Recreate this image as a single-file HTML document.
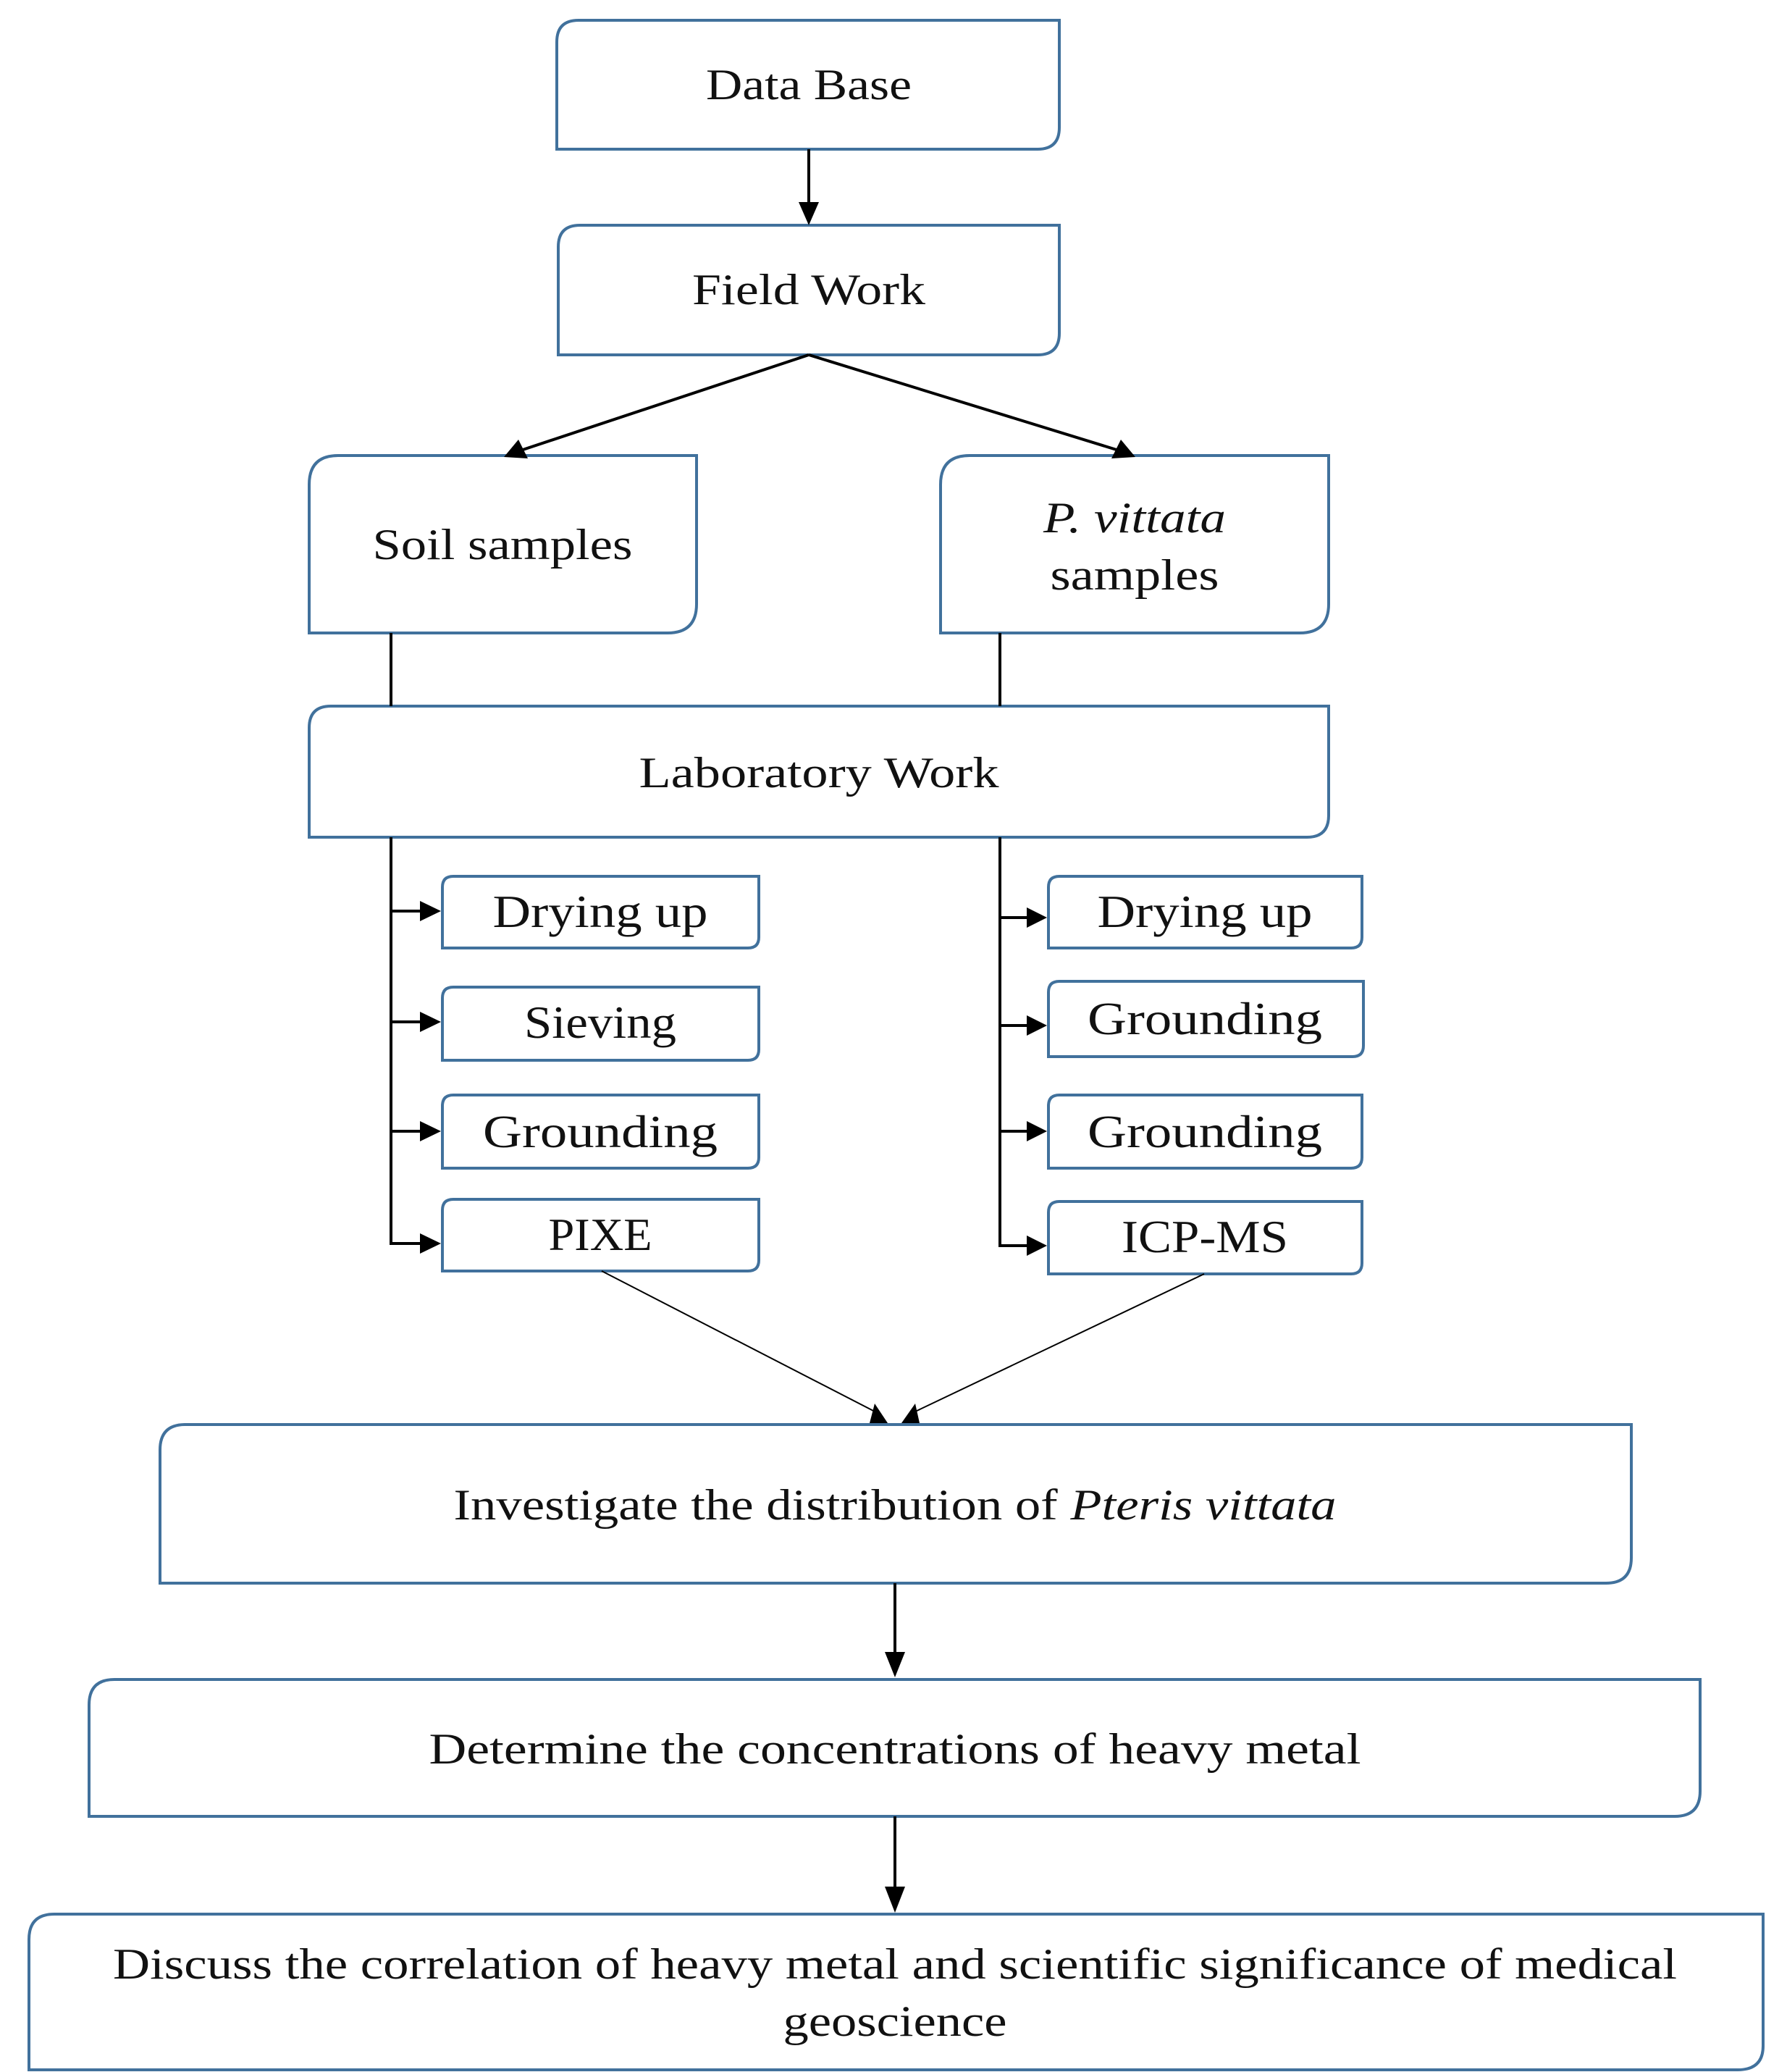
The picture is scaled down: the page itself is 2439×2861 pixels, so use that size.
<!DOCTYPE html>
<html><head><meta charset="utf-8"><style>
html,body{margin:0;padding:0;background:#fff;}
svg{display:block;}
text{font-family:"Liberation Serif",serif;fill:#111;}
</style></head><body>
<svg width="2439" height="2861" viewBox="0 0 2439 2861" xmlns="http://www.w3.org/2000/svg">
<defs>
<marker id="a" markerWidth="10" markerHeight="10" refX="9" refY="5" orient="auto" markerUnits="userSpaceOnUse" viewBox="0 0 10 10">
</marker>
</defs>
<g fill="none" stroke="#41719c" stroke-width="4">
<path d="M769,58 Q769,28 799,28 L1463,28 L1463,176 Q1463,206 1433,206 L769,206 Z"/>
<path d="M771,341 Q771,311 801,311 L1463,311 L1463,460 Q1463,490 1433,490 L771,490 Z"/>
<path d="M427,669 Q427,629 467,629 L962,629 L962,834 Q962,874 922,874 L427,874 Z"/>
<path d="M1299,669 Q1299,629 1339,629 L1835,629 L1835,834 Q1835,874 1795,874 L1299,874 Z"/>
<path d="M427,1005 Q427,975 457,975 L1835,975 L1835,1126 Q1835,1156 1805,1156 L427,1156 Z"/>
<path d="M611,1225 Q611,1210 626,1210 L1048,1210 L1048,1294 Q1048,1309 1033,1309 L611,1309 Z"/>
<path d="M611,1378 Q611,1363 626,1363 L1048,1363 L1048,1449 Q1048,1464 1033,1464 L611,1464 Z"/>
<path d="M611,1527 Q611,1512 626,1512 L1048,1512 L1048,1598 Q1048,1613 1033,1613 L611,1613 Z"/>
<path d="M611,1671 Q611,1656 626,1656 L1048,1656 L1048,1740 Q1048,1755 1033,1755 L611,1755 Z"/>
<path d="M1448,1225 Q1448,1210 1463,1210 L1881,1210 L1881,1294 Q1881,1309 1866,1309 L1448,1309 Z"/>
<path d="M1448,1370 Q1448,1355 1463,1355 L1883,1355 L1883,1444 Q1883,1459 1868,1459 L1448,1459 Z"/>
<path d="M1448,1527 Q1448,1512 1463,1512 L1881,1512 L1881,1598 Q1881,1613 1866,1613 L1448,1613 Z"/>
<path d="M1448,1674 Q1448,1659 1463,1659 L1881,1659 L1881,1744 Q1881,1759 1866,1759 L1448,1759 Z"/>
<path d="M221,2002 Q221,1967 256,1967 L2253,1967 L2253,2151 Q2253,2186 2218,2186 L221,2186 Z"/>
<path d="M123,2354 Q123,2319 158,2319 L2348,2319 L2348,2473 Q2348,2508 2313,2508 L123,2508 Z"/>
<path d="M40,2678 Q40,2643 75,2643 L2435,2643 L2435,2825 Q2435,2858 2400,2858 L40,2858 Z"/>
</g>
<g stroke="#000" stroke-width="4" fill="none">
<line x1="1117" y1="206" x2="1117" y2="285"/>
<line x1="1117" y1="490" x2="722" y2="621"/>
<line x1="1117" y1="490" x2="1542" y2="621"/>
<line x1="540" y1="874" x2="540" y2="975"/>
<line x1="1381" y1="874" x2="1381" y2="975"/>
<polyline points="540,1156 540,1717 585,1717"/>
<line x1="540" y1="1258" x2="585" y2="1258"/>
<line x1="540" y1="1411" x2="585" y2="1411"/>
<line x1="540" y1="1562" x2="585" y2="1562"/>
<polyline points="1381,1156 1381,1720 1422,1720"/>
<line x1="1381" y1="1267" x2="1422" y2="1267"/>
<line x1="1381" y1="1416" x2="1422" y2="1416"/>
<line x1="1381" y1="1562" x2="1422" y2="1562"/>
<line x1="1236" y1="2186" x2="1236" y2="2285"/>
<line x1="1236" y1="2508" x2="1236" y2="2610"/>
</g>
<g stroke="#000" stroke-width="2">
<line x1="831" y1="1755" x2="1210" y2="1950"/>
<line x1="1663" y1="1759" x2="1262" y2="1950"/>
</g>
<g fill="#000">
<polygon points="1103,279 1131,279 1117,311"/>
<polygon points="1222,2281 1250,2281 1236,2316"/>
<polygon points="1222,2605 1250,2605 1236,2641"/>
<polygon points="696,631 716,607 729,633"/>
<polygon points="1568,631 1535,633 1548,607"/>
<polygon points="580,1244 609,1258 580,1272"/>
<polygon points="580,1397 609,1411 580,1425"/>
<polygon points="580,1548 609,1562 580,1576"/>
<polygon points="580,1703 609,1717 580,1731"/>
<polygon points="1418,1253 1446,1267 1418,1281"/>
<polygon points="1418,1402 1446,1416 1418,1430"/>
<polygon points="1418,1548 1446,1562 1418,1576"/>
<polygon points="1418,1706 1446,1720 1418,1734"/>
<polygon points="1201,1965 1208,1938 1226,1965"/>
<polygon points="1245,1965 1264,1938 1270,1965"/>
</g>
<g font-size="60" text-anchor="middle">
<text x="1117" y="137" textLength="284" lengthAdjust="spacingAndGlyphs">Data Base</text>
<text x="1117" y="420" textLength="322" lengthAdjust="spacingAndGlyphs">Field Work</text>
<text x="694" y="772" textLength="359" lengthAdjust="spacingAndGlyphs">Soil samples</text>
<text x="1567" y="735" font-style="italic" textLength="252" lengthAdjust="spacingAndGlyphs">P. vittata</text>
<text x="1567" y="814" textLength="233" lengthAdjust="spacingAndGlyphs">samples</text>
<text x="1131" y="1087" textLength="497" lengthAdjust="spacingAndGlyphs">Laboratory Work</text>
<text x="829" y="1280" font-size="64" textLength="297" lengthAdjust="spacingAndGlyphs">Drying up</text>
<text x="829" y="1433" font-size="64" textLength="210" lengthAdjust="spacingAndGlyphs">Sieving</text>
<text x="829" y="1584" font-size="64" textLength="324" lengthAdjust="spacingAndGlyphs">Grounding</text>
<text x="829" y="1726" font-size="64" textLength="143" lengthAdjust="spacingAndGlyphs">PIXE</text>
<text x="1664" y="1280" font-size="64" textLength="297" lengthAdjust="spacingAndGlyphs">Drying up</text>
<text x="1664" y="1428" font-size="64" textLength="324" lengthAdjust="spacingAndGlyphs">Grounding</text>
<text x="1664" y="1584" font-size="64" textLength="324" lengthAdjust="spacingAndGlyphs">Grounding</text>
<text x="1664" y="1729" font-size="64" textLength="230" lengthAdjust="spacingAndGlyphs">ICP-MS</text>
<text x="1236" y="2098" textLength="1219" lengthAdjust="spacingAndGlyphs">Investigate the distribution of <tspan font-style="italic">Pteris vittata</tspan></text>
<text x="1236" y="2435" textLength="1287" lengthAdjust="spacingAndGlyphs">Determine the concentrations of heavy metal</text>
<text x="1236" y="2732" textLength="2160" lengthAdjust="spacingAndGlyphs">Discuss the correlation of heavy metal and scientific significance of medical</text>
<text x="1236" y="2811" textLength="309" lengthAdjust="spacingAndGlyphs">geoscience</text>
</g>
</svg>
</body></html>
